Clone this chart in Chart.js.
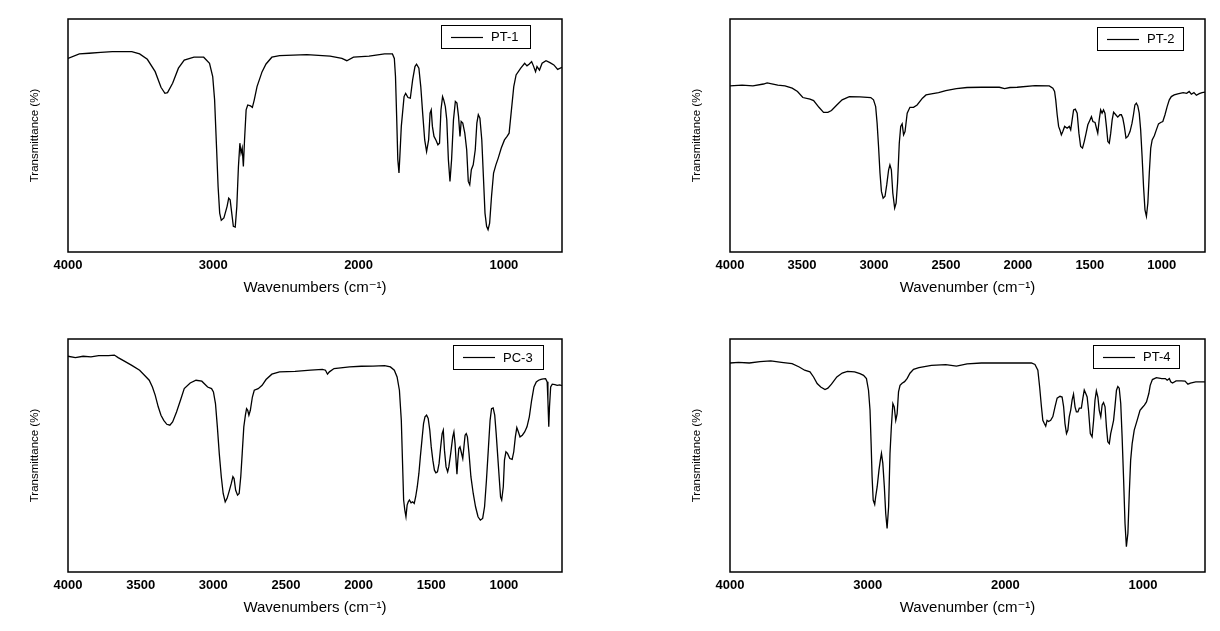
<!DOCTYPE html>
<html>
<head>
<meta charset="utf-8">
<script src="https://cdn.jsdelivr.net/npm/chart.js@4.4.1/dist/chart.umd.min.js"></script>
<style>
html,body{margin:0;padding:0;background:#fff;}
#wrap{position:relative;width:1220px;height:631px;overflow:hidden;background:#fff;}
canvas{position:absolute;}
</style>
</head>
<body>
<div id="wrap">
<canvas id="c1" width="600" height="311" style="left:0px;top:0px"></canvas>
<canvas id="c2" width="600" height="311" style="left:620px;top:0px"></canvas>
<canvas id="c3" width="600" height="311" style="left:0px;top:320px"></canvas>
<canvas id="c4" width="600" height="311" style="left:620px;top:320px"></canvas>
</div>
<script>
// ---------- data ----------
const labels = ['PT-1', 'PT-2', 'PC-3', 'PT-4'];
const xTitles = ['Wavenumbers (cm\u207B\u00B9)', 'Wavenumber (cm\u207B\u00B9)', 'Wavenumbers (cm\u207B\u00B9)', 'Wavenumber (cm\u207B\u00B9)'];
const yTitle = 'Transmittance (%)';

const ticks1 = [4000, 3000, 2000, 1000];
const ticks2 = [4000, 3500, 3000, 2500, 2000, 1500, 1000];
const ticks3 = [4000, 3500, 3000, 2500, 2000, 1500, 1000];
const ticks4 = [4000, 3000, 2000, 1000];

const xMin1 = 600, xMin2 = 700, xMin3 = 600, xMin4 = 550;

const wn1 = [4000,3922,3855,3775,3695,3561,3507,3454,3400,3360,3333,3315,3280,3240,3200,3133,3066,3026,3004,2991,2977,2967,2956,2945,2927,2905,2894,2884,2873,2862,2849,2838,2827,2817,2809,2801,2793,2785,2774,2763,2744,2731,2718,2699,2664,2637,2597,2544,2356,2196,2115,2081,2035,1928,1821,1767,1754,1746,1738,1730,1722,1716,1706,1687,1676,1660,1644,1628,1612,1601,1585,1572,1559,1545,1532,1518,1508,1500,1492,1481,1468,1454,1443,1433,1422,1414,1403,1393,1382,1371,1360,1347,1334,1323,1312,1302,1294,1283,1269,1256,1245,1235,1224,1211,1197,1186,1176,1165,1152,1141,1130,1119,1109,1098,1085,1071,1055,1039,1018,996,978,964,948,932,916,884,857,841,825,809,798,782,772,755,737,710,683,656,630,600];
const t1 = [83.1,85.0,85.3,85.7,86.0,86.0,85.0,82.7,77.4,70.7,68.1,68.4,72.4,78.9,82.4,83.6,83.6,81.0,75.3,65.3,43.9,28.1,16.7,13.6,14.6,19.6,23.1,22.4,16.7,11.0,10.7,19.6,36.7,46.7,42.4,44.6,36.7,48.1,61.0,63.1,62.7,62.1,65.3,71.0,77.4,80.7,83.6,84.3,84.7,84.1,83.1,82.1,83.6,84.1,85.0,85.0,83.1,75.3,58.1,39.6,33.9,41.0,53.9,66.7,68.1,66.3,66.0,73.9,79.6,80.6,78.9,71.0,59.6,48.1,43.1,48.1,59.6,61.0,53.9,49.6,48.1,46.0,46.7,61.0,66.7,65.3,62.4,56.7,39.6,30.3,39.6,56.7,64.6,63.9,58.1,49.6,56.0,55.3,51.0,43.9,30.3,28.9,35.3,37.4,43.9,55.3,58.9,57.4,48.1,32.4,16.7,11.0,9.6,12.4,23.9,33.9,37.4,40.3,44.6,48.1,49.6,51.0,61.0,71.0,76.0,78.9,81.0,79.9,80.7,81.7,80.1,77.4,79.6,78.1,81.0,82.1,81.3,80.3,78.4,79.3];

const wn2 = [4000,3916,3841,3767,3742,3668,3618,3568,3531,3494,3444,3419,3382,3350,3320,3295,3258,3221,3171,3097,3022,3003,2988,2978,2968,2958,2948,2936,2923,2911,2898,2889,2879,2869,2856,2846,2836,2824,2814,2804,2794,2784,2769,2750,2725,2700,2663,2638,2601,2551,2501,2427,2353,2253,2129,2092,2055,2005,1881,1782,1757,1745,1737,1727,1717,1708,1698,1688,1675,1658,1643,1633,1623,1613,1601,1588,1576,1564,1551,1539,1526,1514,1499,1489,1479,1464,1454,1445,1435,1425,1415,1405,1395,1385,1375,1365,1355,1345,1335,1320,1306,1291,1281,1271,1261,1249,1236,1221,1207,1197,1187,1177,1167,1157,1147,1137,1127,1117,1107,1097,1087,1077,1067,1052,1038,1023,1008,993,978,963,948,934,914,889,852,827,810,795,777,760,740,720,700];
const t2 = [71.3,71.6,71.3,72.1,72.6,71.6,71.3,70.3,68.9,66.3,65.6,65.0,62.1,59.9,59.9,60.7,63.1,65.3,66.7,66.6,66.3,65.3,62.4,55.3,45.3,33.9,26.0,23.1,23.9,28.9,35.3,37.4,35.3,25.3,18.9,21.0,29.6,46.7,53.9,55.0,50.3,51.7,59.6,62.1,62.1,63.1,66.0,67.4,67.9,68.4,69.3,70.1,70.6,70.7,70.7,70.1,70.6,70.7,71.4,71.3,70.3,68.9,65.3,58.9,53.9,52.4,50.3,51.7,53.9,53.1,53.9,52.4,56.7,61.0,61.3,59.6,51.0,45.3,44.6,47.4,51.0,54.6,56.7,58.1,56.0,55.6,53.1,51.0,56.7,61.0,59.6,61.0,59.6,53.9,47.4,46.7,51.0,56.7,60.0,58.9,57.9,58.9,58.9,57.4,54.1,48.9,49.6,51.7,55.3,58.9,63.1,63.9,62.7,59.6,52.4,41.0,28.1,18.1,15.3,21.0,33.9,44.6,48.1,49.9,52.4,55.0,55.6,56.0,58.9,62.4,65.3,66.7,67.4,67.9,68.4,68.1,68.9,67.7,68.4,67.3,68.0,68.4,68.6];

const wn3 = [4000,3949,3896,3842,3789,3722,3681,3655,3615,3561,3507,3467,3441,3419,3400,3379,3360,3341,3320,3299,3280,3253,3226,3200,3159,3119,3079,3039,3012,2999,2985,2972,2959,2945,2932,2918,2905,2892,2876,2865,2857,2846,2833,2822,2811,2801,2790,2779,2771,2763,2755,2745,2731,2718,2691,2664,2637,2597,2544,2437,2330,2249,2228,2214,2201,2169,2062,1982,1901,1821,1781,1754,1735,1719,1706,1698,1690,1682,1674,1666,1658,1650,1639,1628,1617,1607,1596,1585,1575,1564,1553,1543,1532,1521,1510,1500,1489,1478,1468,1457,1446,1435,1425,1417,1409,1398,1387,1379,1366,1352,1344,1336,1328,1323,1317,1310,1302,1294,1283,1275,1267,1259,1251,1240,1227,1211,1195,1178,1162,1146,1133,1120,1106,1095,1085,1074,1063,1053,1042,1031,1023,1015,1004,996,986,975,959,943,932,921,911,900,889,873,857,841,825,809,793,777,761,745,729,713,702,697,691,686,678,667,649,633,616,600];
const t3 = [92.6,92.0,92.6,92.3,92.9,92.9,93.1,92.0,90.6,88.7,86.6,84.0,82.3,79.4,75.9,70.9,67.3,65.1,63.4,63.0,64.4,68.7,73.7,78.7,81.1,82.3,81.9,79.4,78.7,77.3,72.3,62.3,50.9,40.9,33.7,30.1,31.6,34.4,38.0,40.9,40.1,35.1,33.0,33.7,40.9,50.9,62.3,67.3,70.1,69.4,67.3,69.4,75.1,78.0,78.7,80.1,82.6,84.9,85.9,86.1,86.6,87.0,86.6,84.9,85.9,87.3,88.0,88.3,88.4,88.6,88.0,86.6,83.7,78.0,65.1,48.0,30.9,26.6,23.7,28.7,30.1,30.9,29.7,30.1,29.4,32.3,36.6,42.3,49.4,56.6,63.7,66.6,67.3,65.9,60.9,53.7,48.0,43.7,42.6,43.0,46.6,53.7,59.4,60.9,52.3,45.1,43.0,45.1,50.9,58.0,60.1,55.1,46.6,42.0,48.0,53.0,53.7,51.6,48.7,53.7,58.7,59.4,58.0,50.9,40.9,33.7,28.0,23.7,22.3,23.0,28.0,39.4,53.7,65.1,70.1,70.4,67.3,59.4,49.4,39.4,32.3,30.9,36.6,48.0,51.6,50.9,48.7,48.3,51.6,58.0,62.0,60.1,58.0,58.7,60.1,62.3,66.6,73.7,79.4,81.6,82.3,82.7,82.9,83.0,81.6,73.7,62.3,70.9,79.4,80.6,80.4,80.1,80.3,80.0];

const wn4 = [4000,3938,3860,3782,3704,3626,3549,3497,3458,3419,3393,3367,3341,3310,3289,3263,3224,3185,3147,3095,3056,3030,3009,2994,2983,2975,2968,2960,2949,2942,2931,2918,2908,2900,2890,2879,2869,2859,2848,2838,2828,2817,2807,2796,2786,2776,2765,2750,2732,2713,2693,2667,2628,2537,2433,2355,2278,2174,2044,1914,1811,1785,1764,1751,1738,1728,1717,1707,1697,1686,1671,1655,1639,1624,1603,1588,1577,1567,1556,1546,1536,1525,1515,1505,1494,1484,1473,1463,1448,1437,1427,1416,1406,1396,1383,1370,1359,1349,1339,1328,1318,1307,1297,1287,1276,1266,1256,1245,1235,1224,1214,1204,1193,1183,1173,1162,1152,1141,1131,1121,1110,1100,1090,1079,1064,1043,1022,1005,990,975,958,948,932,903,864,838,825,809,799,786,760,721,695,674,656,617,550];
const t4 = [89.7,90.0,89.7,90.3,90.6,90.0,89.4,88.0,86.6,85.9,83.7,80.9,79.4,78.3,78.9,80.6,83.7,85.4,86.1,85.9,85.1,84.4,83.0,78.0,69.4,55.1,40.9,30.9,29.0,32.3,36.6,43.7,48.0,50.9,46.6,36.6,25.1,18.7,28.0,50.9,62.3,72.3,70.9,65.1,68.0,77.3,80.1,81.0,81.7,83.1,85.3,87.0,87.7,88.7,89.0,88.4,89.3,89.7,89.7,89.7,89.7,89.1,86.6,79.4,70.9,65.1,63.7,62.6,65.1,64.6,65.1,66.7,71.0,74.6,75.4,75.1,71.0,63.7,59.4,60.9,66.6,69.6,73.9,76.3,70.9,68.7,68.7,70.3,70.3,74.6,78.1,76.6,75.1,69.4,59.4,58.0,65.1,73.7,77.7,75.1,69.4,66.6,71.7,72.7,70.9,62.3,55.9,55.1,59.4,62.3,65.1,71.0,78.0,79.6,78.9,72.3,58.0,39.4,20.9,10.9,16.6,33.7,48.0,55.1,60.9,65.1,69.4,70.6,71.6,73.0,76.6,80.1,82.6,83.4,83.0,83.0,82.3,83.0,81.6,81.1,82.0,82.0,81.9,80.6,81.1,81.6,81.6];

// ---------- drawing ----------
const FONT = "'Liberation Sans', Arial, 'DejaVu Sans', sans-serif";

const framePlugin = {
  id: 'frame',
  afterDatasetsDraw(chart) {
    const a = chart.chartArea, ctx = chart.ctx;
    ctx.save();
    ctx.strokeStyle = '#000';
    ctx.lineWidth = 1.5;
    ctx.strokeRect(a.left, a.top, a.right - a.left, a.bottom - a.top);
    ctx.restore();
  }
};

const boxLegendPlugin = {
  id: 'boxLegend',
  afterDraw(chart, args, opts) {
    const ctx = chart.ctx;
    const ds = chart.data.datasets[0];
    ctx.save();
    ctx.fillStyle = '#fff';
    ctx.fillRect(opts.x, opts.y, opts.w, opts.h);
    ctx.strokeStyle = '#000';
    ctx.lineWidth = 1;
    ctx.strokeRect(opts.x + 0.5, opts.y + 0.5, opts.w, opts.h);
    const cy = Math.round(opts.y + opts.h / 2) + 0.5;
    ctx.beginPath();
    ctx.moveTo(opts.x + 10, cy);
    ctx.lineTo(opts.x + 42, cy);
    ctx.lineWidth = 1.2;
    ctx.stroke();
    ctx.fillStyle = '#000';
    ctx.font = '13px ' + FONT;
    ctx.textBaseline = 'middle';
    ctx.textAlign = 'left';
    ctx.fillText(ds.label, opts.x + 50, opts.y + opts.h / 2 + 1);
    ctx.restore();
  }
};

function makeChart(id, wn, tr, label, tickVals, xMin, xTitle, padLeft, padRight, legendBox) {
  const pts = wn.map((w, i) => ({ x: w, y: tr[i] }));
  return new Chart(document.getElementById(id), {
    type: 'line',
    data: {
      datasets: [{
        label: label,
        data: pts,
        borderColor: '#000',
        backgroundColor: '#000',
        borderWidth: 1.3,
        pointRadius: 0,
        fill: false,
        tension: 0
      }]
    },
    options: {
      responsive: false,
      animation: false,
      devicePixelRatio: 1,
      layout: { padding: { left: padLeft, right: padRight, top: 19, bottom: 0 } },
      plugins: {
        legend: { display: false },
        tooltip: { enabled: false },
        boxLegend: legendBox
      },
      scales: {
        x: {
          type: 'linear',
          reverse: true,
          min: xMin,
          max: 4000,
          grid: { display: false, drawTicks: false },
          border: { display: false },
          afterBuildTicks: s => { s.ticks = tickVals.map(v => ({ value: v })); },
          afterFit: s => { s.height = 59; },
          ticks: {
            color: '#000',
            padding: 6,
            autoSkip: false,
            maxRotation: 0,
            font: { family: FONT, size: 13, weight: 'bold' },
            callback: v => String(v)
          },
          title: {
            display: true,
            text: xTitle,
            color: '#000',
            font: { family: FONT, size: 15 },
            padding: { top: 0, bottom: 14 }
          }
        },
        y: {
          min: 0,
          max: 100,
          grid: { display: false, drawTicks: false },
          border: { display: false },
          ticks: { display: false },
          afterFit: s => { s.width = 68; },
          title: {
            display: true,
            text: yTitle,
            color: '#000',
            font: { family: FONT, size: 11.5 },
            padding: { top: 28, bottom: 0 }
          }
        }
      }
    },
    plugins: [framePlugin, boxLegendPlugin]
  });
}

makeChart('c1', wn1, t1, labels[0], ticks1, xMin1, xTitles[0], 0, 38, { x: 441, y: 25, w: 89, h: 23 });
makeChart('c2', wn2, t2, labels[1], ticks2, xMin2, xTitles[1], 42, 15, { x: 477, y: 27, w: 86, h: 23 });
makeChart('c3', wn3, t3, labels[2], ticks3, xMin3, xTitles[2], 0, 38, { x: 453, y: 25, w: 90, h: 24 });
makeChart('c4', wn4, t4, labels[3], ticks4, xMin4, xTitles[3], 42, 15, { x: 473, y: 25, w: 86, h: 23 });
</script>
</body>
</html>
